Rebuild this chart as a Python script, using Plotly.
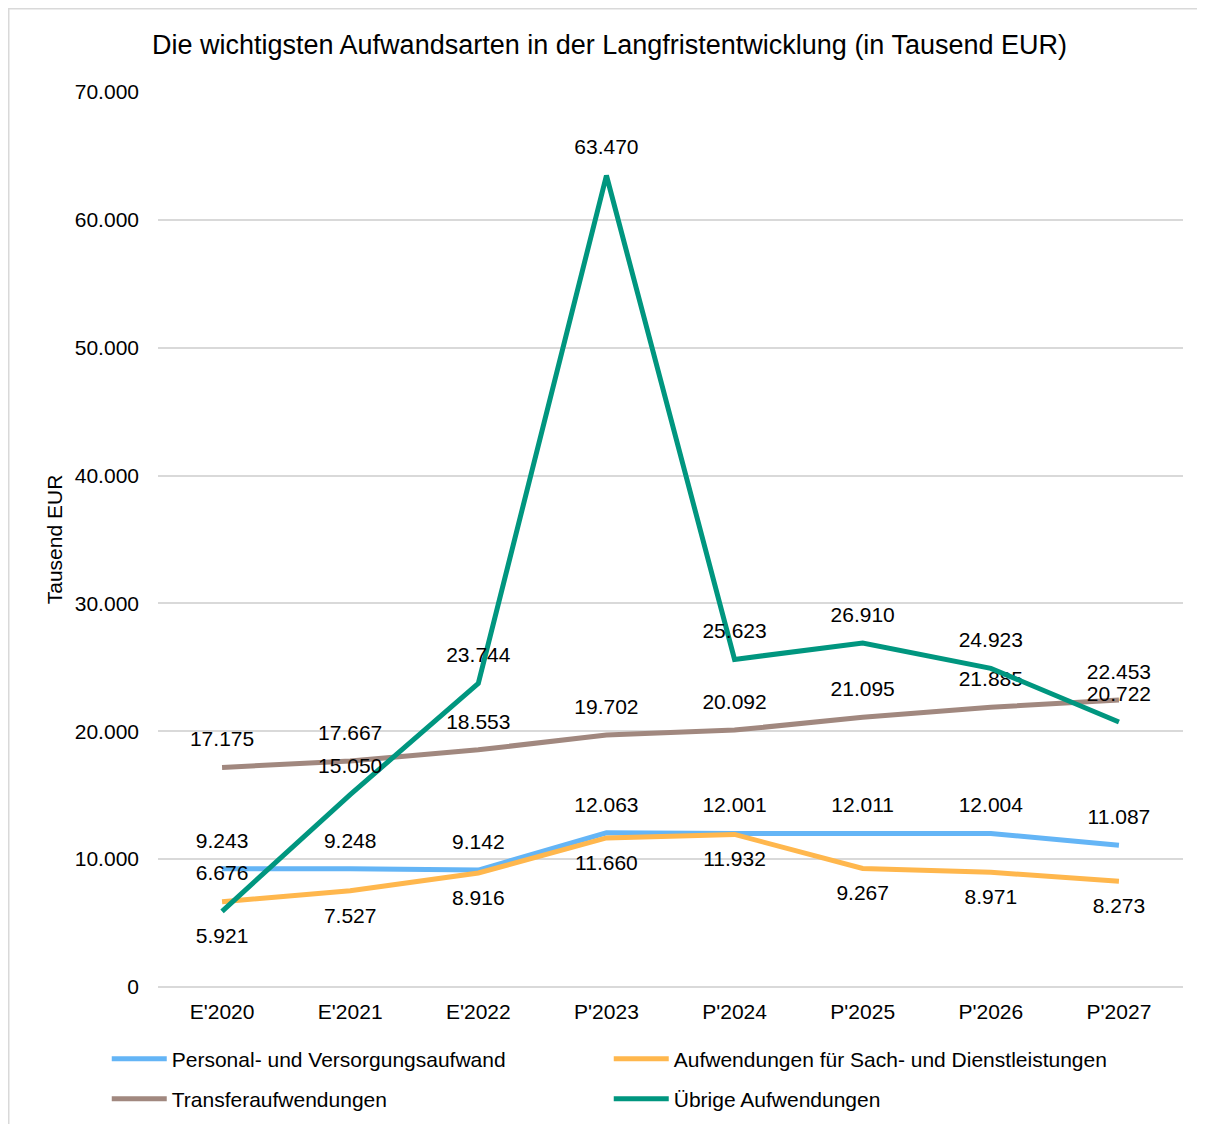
import plotly.graph_objects as go

FONT = "Liberation Sans, Arial, sans-serif"

jahre = ["E'2020", "E'2021", "E'2022", "P'2023", "P'2024", "P'2025", "P'2026", "P'2027"]
personal = [9243, 9248, 9142, 12063, 12001, 12011, 12004, 11087]
sach = [6676, 7527, 8916, 11660, 11932, 9267, 8971, 8273]
transfer = [17175, 17667, 18553, 19702, 20092, 21095, 21885, 22453]
uebrige = [5921, 15050, 23744, 63470, 25623, 26910, 24923, 20722]

serien = [
    ("Personal- und Versorgungsaufwand", personal, "#64B5F6",
     ["top center"] * 8, "legend"),
    ("Aufwendungen für Sach- und Dienstleistungen", sach, "#FFB74D",
     ["top center"] + ["bottom center"] * 7, "legend"),
    ("Transferaufwendungen", transfer, "#A1887F", ["top center"] * 8, "legend2"),
    ("Übrige Aufwendungen", uebrige, "#00967F",
     ["bottom center"] + ["top center"] * 7, "legend2"),
]

fig = go.Figure()
for name, werte, farbe, pos, leg in serien:
    fig.add_trace(go.Scatter(
        x=jahre, y=werte, name=name, mode="lines+markers+text", legend=leg,
        line={"color": farbe, "width": 5},
        marker={"size": 24, "color": "rgba(0,0,0,0)"},
        texttemplate="%{y:,.0f}", textposition=pos,
        textfont={"size": 21, "color": "#000000", "family": FONT},
    ))

# browser adds 8px body margin, so the figure is a bit smaller than the window
W, H = 1197, 1116
L, R, T, B = 150, 22, 84, 137
pw, ph = W - L - R, H - T - B

leg_style = {"orientation": "h", "xanchor": "left", "yanchor": "middle",
             "entrywidth": 432, "entrywidthmode": "pixels", "itemwidth": 55,
             "font": {"size": 21, "family": FONT}, "bgcolor": "rgba(0,0,0,0)"}

fig.update_layout(
    width=W, height=H,
    separators=",.",
    plot_bgcolor="white", paper_bgcolor="white",
    font={"family": FONT, "size": 21, "color": "#000000"},
    title={"text": "Die wichtigsten Aufwandsarten in der Langfristentwicklung (in Tausend EUR)",
           "x": 0.5025, "xanchor": "center", "y": 1 - 37 / H, "yanchor": "middle",
           "font": {"size": 27, "family": FONT, "color": "#000000"}},
    margin={"l": L, "r": R, "t": T, "b": B, "autoexpand": False},
    showlegend=True,
    legend={**leg_style, "x": -0.05, "y": -72 / ph},
    legend2={**leg_style, "x": -0.05, "y": -112 / ph},
    shapes=[
        {"type": "line", "xref": "paper", "yref": "paper",
         "x0": (0.5 - L) / pw, "x1": (0.5 - L) / pw, "y0": -(B + 5) / ph, "y1": 1 + T / ph,
         "line": {"color": "#d9d9d9", "width": 2}},
        {"type": "line", "xref": "paper", "yref": "paper",
         "x0": -L / pw, "x1": (W - L) / pw, "y0": 1 + (T - 0.5) / ph, "y1": 1 + (T - 0.5) / ph,
         "line": {"color": "#d9d9d9", "width": 2}},
    ],
)
fig.update_xaxes(showgrid=False, showline=False, ticks="", tickfont={"size": 21},
                 range=[-0.5, 7.5], ticklabelstandoff=10, automargin=False)
fig.update_yaxes(range=[0, 70000], dtick=10000, tickformat=",.0f", showgrid=True,
                 gridcolor="#d9d9d9", gridwidth=2, zeroline=True, zerolinecolor="#d9d9d9",
                 zerolinewidth=2, tickfont={"size": 21}, ticklabelstandoff=18, automargin=False,
                 title={"text": "Tausend EUR", "font": {"size": 21}, "standoff": 6})

fig.write_html("out.html")
